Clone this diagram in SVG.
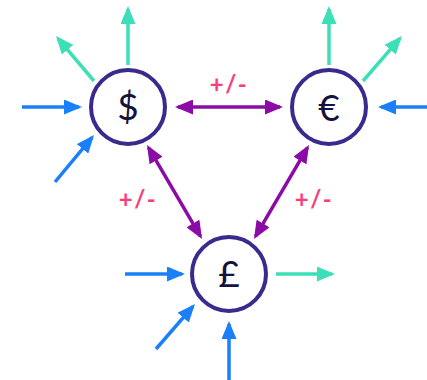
<svg xmlns="http://www.w3.org/2000/svg" width="427" height="380" viewBox="0 0 427 380">
<style>
.teal{stroke:#3ddfb6;stroke-width:3.5;fill:none}
.blue{stroke:#1a80fa;stroke-width:3.5;fill:none}
.purple{stroke:#8a0ba6;stroke-width:3.5;fill:none}
.node circle{fill:#fff;stroke:#3a2a8e;stroke-width:4}
.node text{font-family:Lato,"Open Sans",sans-serif;font-size:37px;fill:#15123d;text-anchor:middle}
.lbl{font-family:Lato,"Open Sans",sans-serif;font-size:24px;font-weight:700;fill:#fb3d7c;text-anchor:middle;letter-spacing:1.5px}
</style>
<defs>
<marker id="mt" markerUnits="userSpaceOnUse" markerWidth="18" markerHeight="15" refX="15" refY="7.5" orient="auto-start-reverse"><path d="M0,0 L18,7.5 L0,15 z" fill="#3ddfb6"/></marker>
<marker id="mb" markerUnits="userSpaceOnUse" markerWidth="18" markerHeight="15" refX="15" refY="7.5" orient="auto-start-reverse"><path d="M0,0 L18,7.5 L0,15 z" fill="#1a80fa"/></marker>
<marker id="mp" markerUnits="userSpaceOnUse" markerWidth="18" markerHeight="15" refX="15" refY="7.5" orient="auto-start-reverse"><path d="M0,0 L18,7.5 L0,15 z" fill="#8a0ba6"/></marker>
</defs>
<g id="connectors">
<line class="teal" x1="128" y1="65" x2="128" y2="9" marker-end="url(#mt)"/>
<line class="teal" x1="94" y1="81" x2="57.9" y2="38.3" marker-end="url(#mt)"/>
<line class="blue" x1="22" y1="107" x2="79" y2="107" marker-end="url(#mb)"/>
<line class="blue" x1="55" y1="182" x2="92.1" y2="137.3" marker-end="url(#mb)"/>
<line class="purple" x1="178" y1="107" x2="280" y2="107" marker-start="url(#mp)" marker-end="url(#mp)"/>
<line class="purple" x1="148.5" y1="147.6" x2="200.5" y2="236.4" marker-start="url(#mp)" marker-end="url(#mp)"/>
<line class="purple" x1="307.5" y1="147.6" x2="255.5" y2="236.4" marker-start="url(#mp)" marker-end="url(#mp)"/>
<line class="teal" x1="329" y1="65" x2="329" y2="9" marker-end="url(#mt)"/>
<line class="teal" x1="363" y1="81" x2="400" y2="38.3" marker-end="url(#mt)"/>
<line class="blue" x1="427" y1="107" x2="381" y2="107" marker-end="url(#mb)"/>
<line class="blue" x1="125" y1="274" x2="182" y2="274" marker-end="url(#mb)"/>
<line class="blue" x1="156" y1="349" x2="193" y2="306.3" marker-end="url(#mb)"/>
<line class="blue" x1="229" y1="380" x2="229" y2="324" marker-end="url(#mb)"/>
<line class="teal" x1="276" y1="274" x2="332" y2="274" marker-end="url(#mt)"/>
<text class="lbl" x="229" y="93">+/-</text>
<text class="lbl" x="138" y="208">+/-</text>
<text class="lbl" x="314" y="208">+/-</text>
</g>
<g id="dollar" class="node"><circle cx="128" cy="107" r="37"/><text x="128" y="120">$</text></g>
<g id="euro" class="node"><circle cx="329" cy="107" r="37"/><text x="329" y="121">€</text></g>
<g id="pound" class="node"><circle cx="229" cy="274" r="37"/><text x="229" y="287">£</text></g>
</svg>
